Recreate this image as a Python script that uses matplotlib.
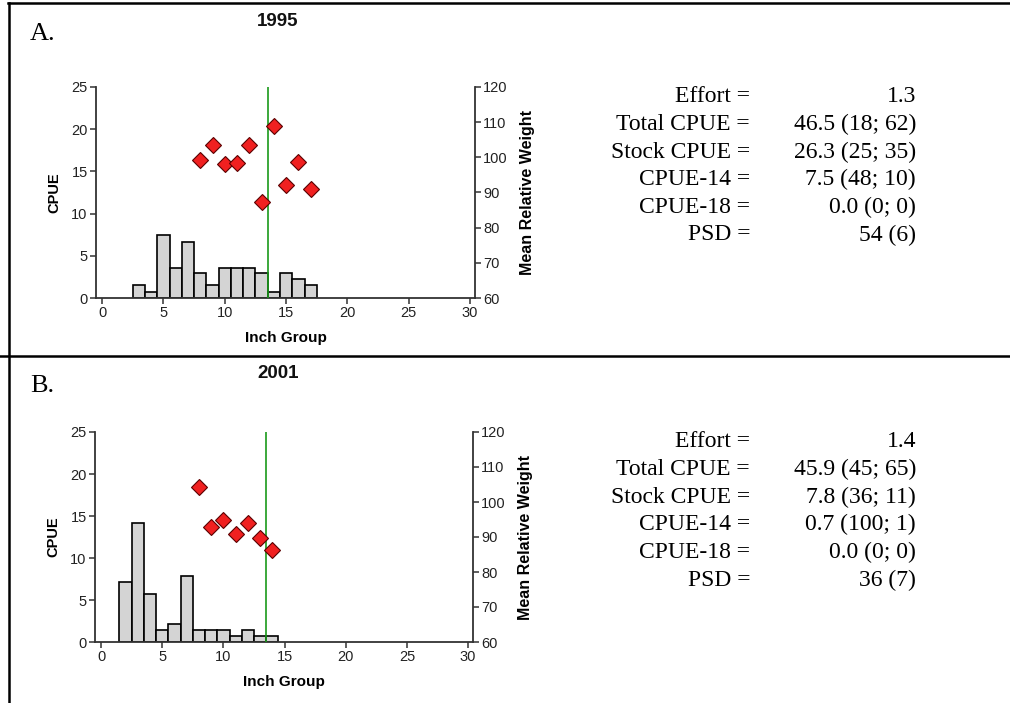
import matplotlib
matplotlib.use("Agg")
import matplotlib.pyplot as plt
from matplotlib.lines import Line2D

W, H = 1010, 703

# ---- data ----
years = ["1995", "2001"]
panel_tags = ["A.", "B."]

inch_1995 = [3, 4, 5, 6, 7, 8, 9, 10, 11, 12, 13, 14, 15, 16, 17]
cpue_1995 = [1.5, 0.7, 7.5, 3.6, 6.6, 3.0, 1.5, 3.6, 3.6, 3.6, 3.0, 0.7, 3.0, 2.2, 1.5]
wr_inch_1995 = [8, 9, 10, 11, 12, 13, 14, 15, 16, 17]
wr_1995 = [99.2, 103.6, 98.0, 98.5, 103.6, 87.2, 108.8, 92.0, 98.8, 90.9]

inch_2001 = [2, 3, 4, 5, 6, 7, 8, 9, 10, 11, 12, 13, 14]
cpue_2001 = [7.1, 14.2, 5.7, 1.4, 2.2, 7.9, 1.4, 1.4, 1.4, 0.7, 1.4, 0.7, 0.7]
wr_inch_2001 = [8, 9, 10, 11, 12, 13, 14]
wr_2001 = [104.3, 92.8, 94.9, 90.8, 93.9, 89.6, 86.3]

stock_line = 13.5

stat_names = ["Effort =", "Total CPUE =", "Stock CPUE =", "CPUE-14 =", "CPUE-18 =", "PSD ="]
stats_1995 = ["1.3", "46.5 (18; 62)", "26.3 (25; 35)", "7.5 (48; 10)", "0.0 (0; 0)", "54 (6)"]
stats_2001 = ["1.4", "45.9 (45; 65)", "7.8 (36; 11)", "0.7 (100; 1)", "0.0 (0; 0)", "36 (7)"]

panels = [
    (inch_1995, cpue_1995, wr_inch_1995, wr_1995, stats_1995),
    (inch_2001, cpue_2001, wr_inch_2001, wr_2001, stats_2001),
]

fig = plt.figure(figsize=(W / 100, H / 100), dpi=100)


def fx(px):
    return px / W


def fy(py):
    return 1 - py / H


# outer frame lines
fig.add_artist(Line2D([fx(8), fx(1010)], [fy(3), fy(3)], color="black", lw=1.8))
fig.add_artist(Line2D([fx(9), fx(9)], [fy(3), fy(703)], color="black", lw=1.8))
fig.add_artist(Line2D([fx(0), fx(1010)], [fy(356), fy(356)], color="black", lw=1.8))

sans = "Liberation Sans"
serif = "Liberation Serif"
spine_col = "#333333"

axes_boxes = [(96, 475, 87, 298), (95, 473, 432, 642)]
offsets = [0, 345]
title_offsets = [0, 352]

for i, (inch, cpue, wr_x, wr_y, stats) in enumerate(panels):
    l, r, t, b = axes_boxes[i]
    off = offsets[i]
    toff = title_offsets[i]
    ax = fig.add_axes([fx(l), fy(b), fx(r) - fx(l), fy(t) - fy(b)])
    ax.bar(inch, cpue, width=1.0, color="#d4d4d4", edgecolor="black", linewidth=1.2, zorder=2)
    ax.set_xlim(-0.5, 30.4)
    ax.set_ylim(0, 25)
    ax.set_xticks([0, 5, 10, 15, 20, 25, 30])
    ax.set_yticks([0, 5, 10, 15, 20, 25])
    for s in ["top", "right"]:
        ax.spines[s].set_visible(False)
    for s in ["left", "bottom"]:
        ax.spines[s].set_color(spine_col)
        ax.spines[s].set_linewidth(1.3)
    ax.tick_params(direction="out", length=4, width=1.1, color=spine_col,
                   labelsize=10.5, labelcolor="#222222", pad=2)
    for lab in ax.get_xticklabels() + ax.get_yticklabels():
        lab.set_family(sans)
    ax.set_ylabel("CPUE", family=sans, fontweight="bold", fontsize=10.5, labelpad=7)
    ax.set_xlabel("Inch Group", family=sans, fontweight="bold", fontsize=11, labelpad=8)

    ax2 = ax.twinx()
    ax2.set_ylim(60, 120)
    ax2.set_yticks([60, 70, 80, 90, 100, 110, 120])
    for s in ["top", "left", "bottom"]:
        ax2.spines[s].set_visible(False)
    ax2.spines["right"].set_color(spine_col)
    ax2.spines["right"].set_linewidth(1.3)
    ax2.tick_params(direction="out", length=4, width=1.1, color=spine_col,
                    labelsize=10.5, labelcolor="#222222", pad=2)
    for lab in ax2.get_yticklabels():
        lab.set_family(sans)
    ax2.set_ylabel("Mean Relative Weight", family=sans, fontweight="bold", fontsize=11.5, labelpad=9)
    ax2.plot([stock_line, stock_line], [60, 120], color="#1a9a1a", lw=1.2, zorder=3)
    ax2.plot(wr_x, wr_y, linestyle="none", marker="D", markersize=8.5,
             markerfacecolor="#f02020", markeredgecolor="#5a0000", markeredgewidth=0.8, zorder=4)

    # panel tag and year title
    fig.text(fx(30), fy(34 + toff), panel_tags[i], family=serif, fontsize=19, va="center", ha="left")
    fig.text(fx(278), fy(21 + toff), years[i], family=sans, fontsize=13.5, fontweight="bold",
             va="center", ha="center", color="#111111")

    # statistics block
    for j, (name, val) in enumerate(zip(stat_names, stats)):
        y = fy(97 + off + j * 27.6)
        fig.text(fx(750), y, name, family=serif, fontsize=17, ha="right", va="center")
        fig.text(fx(916), y, val, family=serif, fontsize=17, ha="right", va="center")

fig.savefig("out.png", dpi=100)
